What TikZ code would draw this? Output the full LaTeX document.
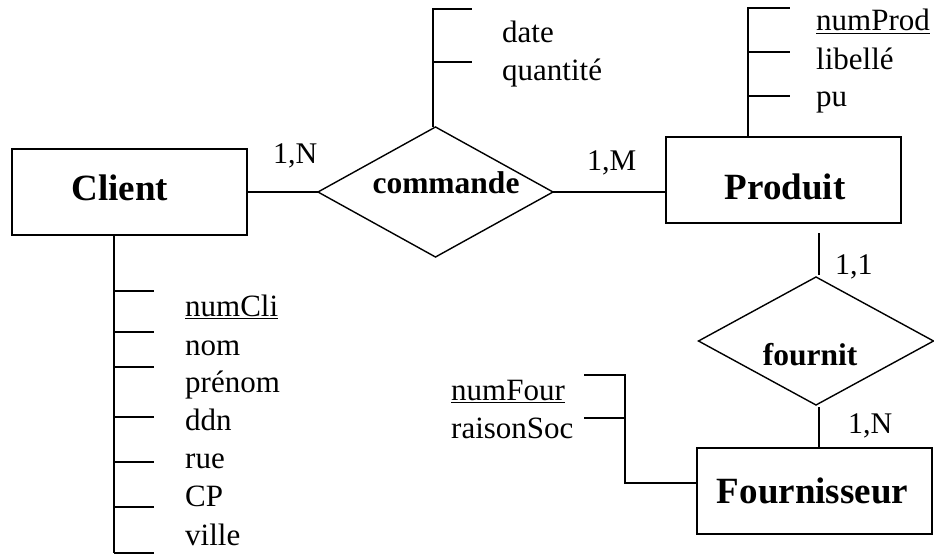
\documentclass[tikz,border=0pt]{standalone}
\usepackage{fontspec}
\setmainfont{Liberation Serif}
\usetikzlibrary{shapes.geometric}
% #1 = twice the horizontal shift, #2 = lift of the baseline above the node centre
\newcommand\placetext[3]{\raisebox{#2}[0pt][0pt]{\makebox[0pt]{\hspace*{#1}#3}}}
\tikzset{
  entity/.style={draw, line width=1.9pt, rectangle, minimum width=235pt, minimum height=86pt, inner sep=0pt, outer sep=0pt, font=\fontsize{37}{44}\selectfont\bfseries},
  relation/.style={draw, line width=1.4pt, diamond, aspect=1.8, minimum width=235pt, minimum height=130pt, inner sep=0pt, outer sep=0pt, font=\fontsize{31.5}{38}\selectfont\bfseries},
  attr/.style={anchor=base west, inner sep=0pt, font=\fontsize{31}{37}\selectfont},
  card/.style={anchor=base west, inner sep=0pt, font=\fontsize{30}{36}\selectfont},
  link/.style={line width=1.5pt},
}
\begin{document}
\begin{tikzpicture}[x=1pt,y=-1pt]
\useasboundingbox (0,0) rectangle (934,559);
% entities and relations
\node[entity] (client) at (129.5,192) {\placetext{-19pt}{-8pt}{Client}};
\node[relation] (commande) at (435.5,192) {\placetext{21pt}{-1pt}{commande}};
\node[entity] (produit) at (783.5,180) {\placetext{3pt}{-19pt}{Produit}};
\node[relation, minimum height=128pt] (fournit) at (816,341) {\placetext{-12pt}{-24pt}{fournit}};
\node[entity] (fournisseur) at (814.5,491) {\placetext{-4pt}{-12pt}{Fournisseur}};

% connectors
\draw[link] (client.east) -- (commande.west);
\draw[link] (commande.east) -- (commande.east -| produit.west);
\coordinate (pf) at (819,233);
\coordinate (pfe) at (819,275);
\draw[link] (pf) -- (pfe);
\coordinate (ff) at (819,407);
\coordinate (ffe) at (819,448);
\draw[link] (ff) -- (ffe);

% cardinalities
\node[card] (c1) at (273,163) {1,N};
\node[card] (c2) at (587,171) {1,M};
\node[card] (c3) at (835,274) {1,1};
\node[card] (c4) at (848,433) {1,N};

% commande attributes
\coordinate (ca0) at (433,127);
\coordinate (ca1) at (433,9);
\coordinate (ca1e) at (472,9);
\coordinate (ca2) at (433,62);
\coordinate (ca2e) at (472,62);
\draw[link] (ca0) -- (ca1) -- (ca1e);
\draw[link] (ca2) -- (ca2e);
\node[attr] (date) at (502,43) {date};
\node[attr] (qte) at (502,81) {quantité};

% produit attributes
\coordinate (pa0) at (748,137);
\coordinate (pa1) at (748,8);
\coordinate (pa1e) at (790,8);
\coordinate (pa2) at (748,52);
\coordinate (pa2e) at (790,52);
\coordinate (pa3) at (748,96);
\coordinate (pa3e) at (790,96);
\draw[link] (pa0) -- (pa1) -- (pa1e);
\draw[link] (pa2) -- (pa2e);
\draw[link] (pa3) -- (pa3e);
\node[attr] (numprod) at (816,31) {\underline{numProd}};
\node[attr] (libelle) at (816,70) {libellé};
\node[attr] (pu) at (816,107) {pu};

% client attributes
\coordinate (cl0) at (114,235);
\coordinate (cl7) at (114,553);
\draw[link] (cl0) -- (cl7);
\foreach \y [count=\i] in {291,332,367,417,462,507,553} {
  \coordinate (clt\i) at (114,\y);
  \coordinate (clte\i) at (154,\y);
  \draw[link] (clt\i) -- (clte\i);
}
\node[attr] (numcli) at (185,316) {\underline{numCli}};
\node[attr] (nom) at (185,355) {nom};
\node[attr] (prenom) at (185,392) {prénom};
\node[attr] (ddn) at (185,430) {ddn};
\node[attr] (rue) at (185,468) {rue};
\node[attr] (cp) at (185,506) {CP};
\node[attr] (ville) at (185,545) {ville};

% fournisseur attributes
\coordinate (fa0) at (697,483);
\coordinate (fa1) at (625,483);
\coordinate (fa2) at (625,375);
\coordinate (fa2e) at (584,375);
\coordinate (fa3) at (625,418);
\coordinate (fa3e) at (584,418);
\draw[link] (fa0) -- (fa1) -- (fa2) -- (fa2e);
\draw[link] (fa3) -- (fa3e);
\node[attr] (numfour) at (451,400) {\underline{numFour}};
\node[attr] (raison) at (451,438) {raisonSoc};
\end{tikzpicture}
\end{document}
